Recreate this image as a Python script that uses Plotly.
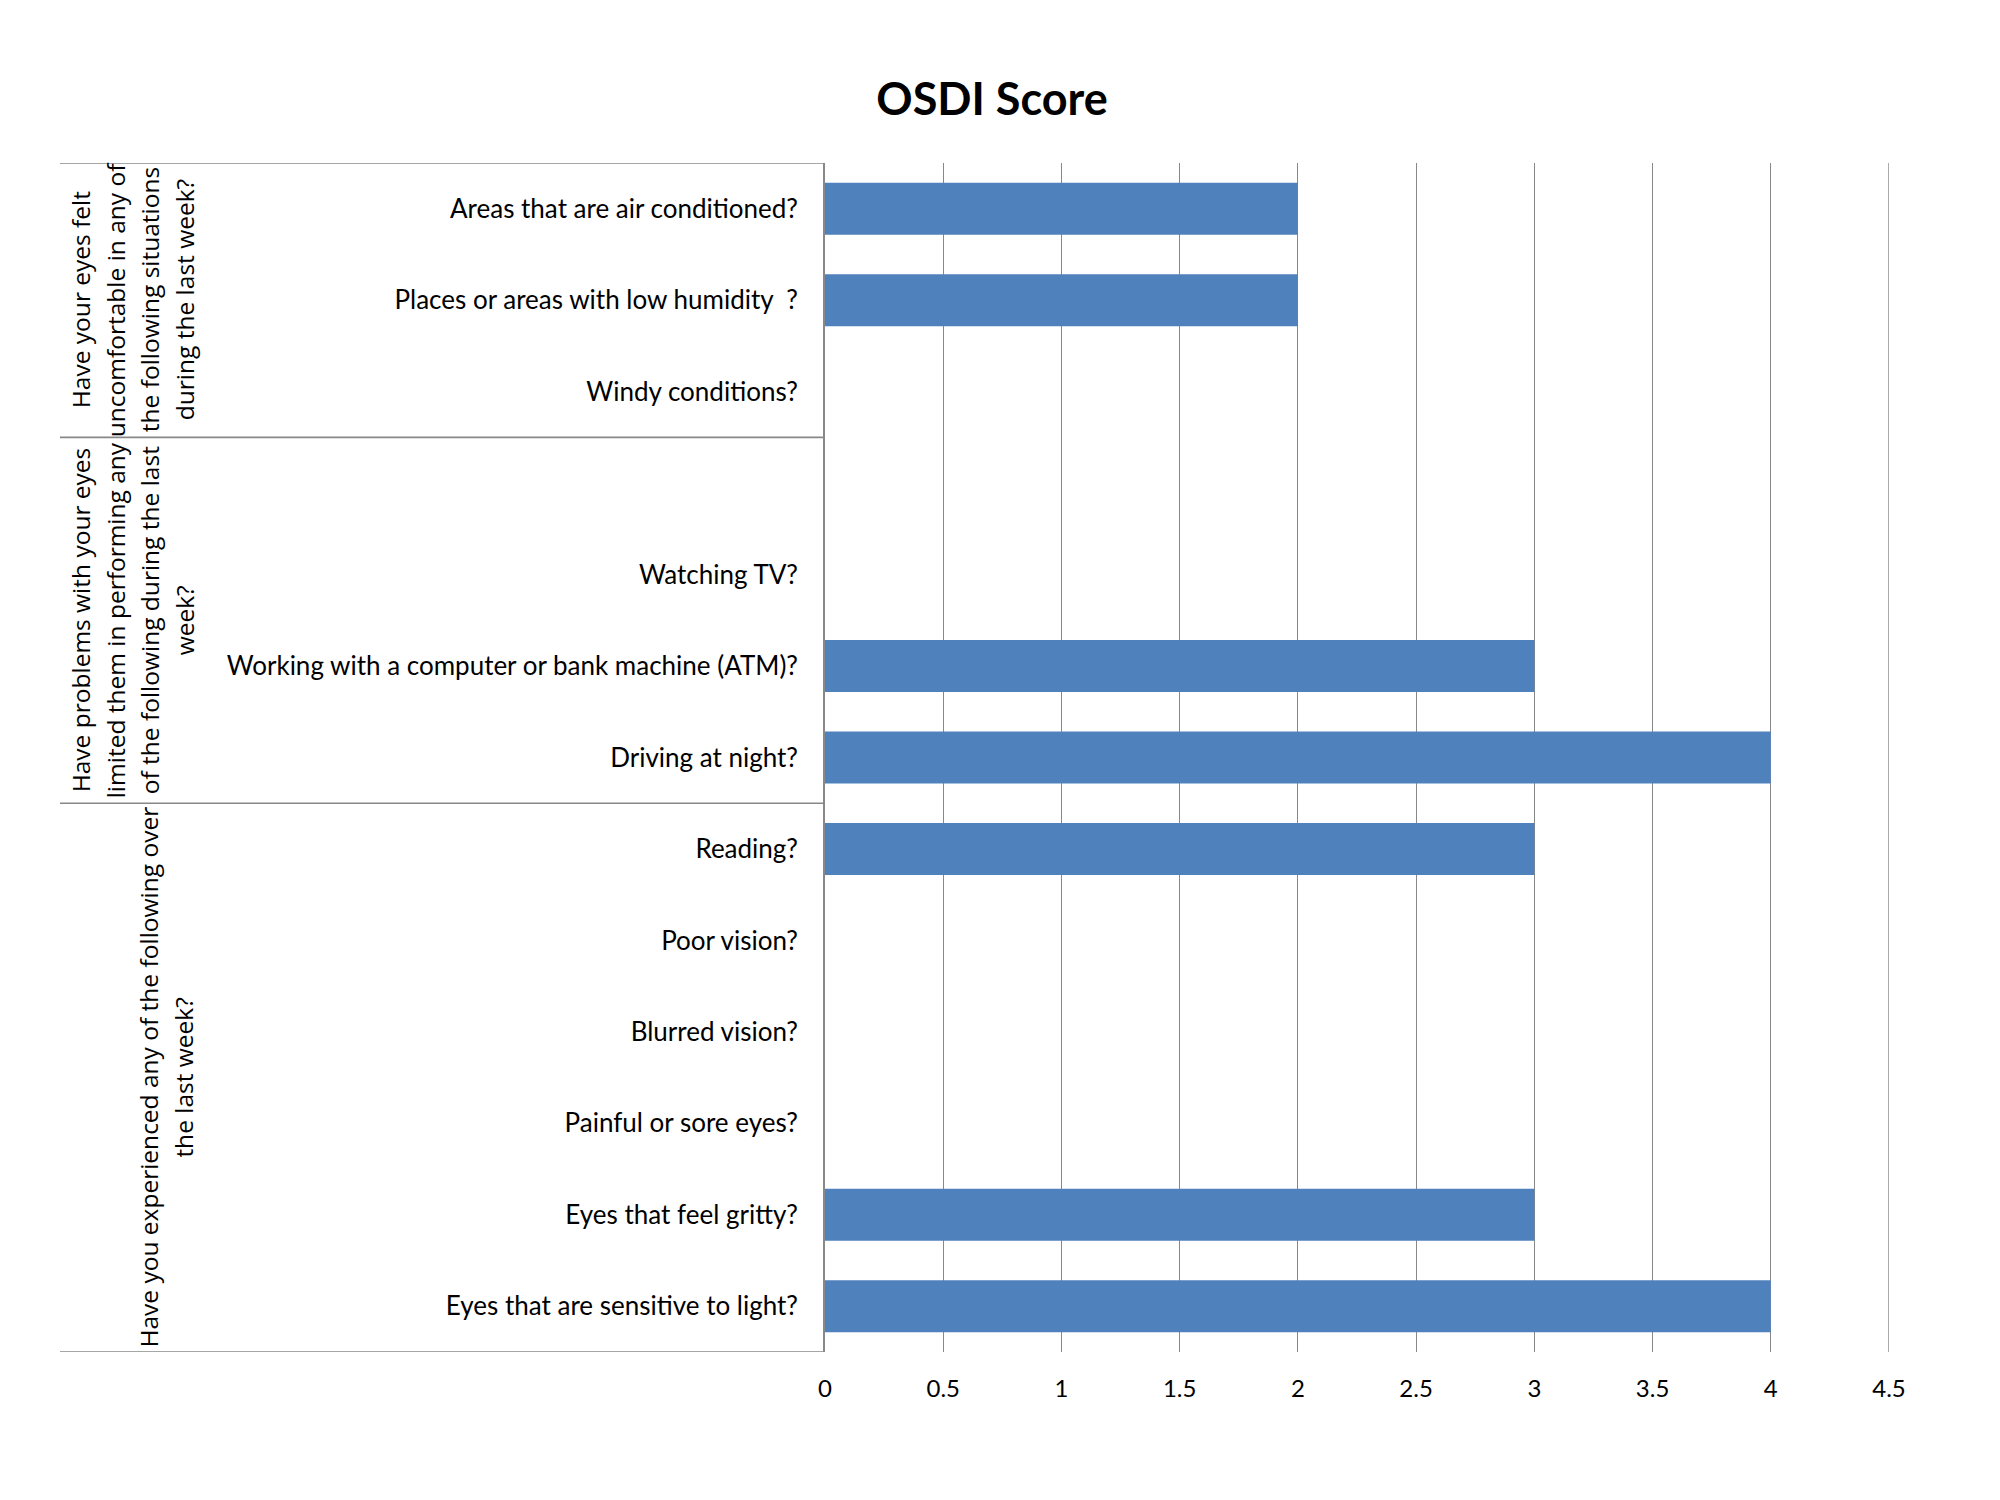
import plotly.graph_objects as go

# ---- data ----
categories = [
    "Areas that are air conditioned?",
    "Places or areas with low humidity\u00a0 ?",
    "Windy conditions?",
    " ",
    "Watching TV?",
    "Working with a computer or bank machine (ATM)?",
    "Driving at night?",
    "Reading?",
    "Poor vision?",
    "Blurred vision?",
    "Painful or sore eyes?",
    "Eyes that feel gritty?",
    "Eyes that are sensitive to light?",
]
scores = [2, 2, 0, 0, 0, 3, 4, 3, 0, 0, 0, 3, 4]
group_sizes = [3, 4, 6]
group_lines = [
    ["Have your eyes felt", "uncomfortable in any of", "the following situations", "during the last week?"],
    ["Have problems with your eyes", "limited them in performing any", "of the following during the last", "week?"],
    ["Have you experienced any of the following over", "the last week?"],
]
x_ticks = [0, 0.5, 1, 1.5, 2, 2.5, 3, 3.5, 4, 4.5]
x_ticklabels = ["0", "0.5", "1", "1.5", "2", "2.5", "3", "3.5", "4", "4.5"]
title = "OSDI Score"

# ---- layout geometry (pixels) ----
W, H = 2000, 1500
L, R, T, B = 825, 1889, 163, 1352
PW = R - L


def px2paper(p):
    return (p - L) / PW


GRAY = "#888888"
BLUE = "#4F81BD"

fig = go.Figure()
fig.add_trace(go.Bar(
    x=scores, y=categories, orientation="h",
    marker=dict(color=BLUE, line=dict(width=0)),
    width=0.57, showlegend=False,
))

shapes = []
boundaries = [-0.5]
acc = -0.5
for s in group_sizes:
    acc += s
    boundaries.append(acc)
for yb in boundaries:
    shapes.append(dict(type="line", xref="paper", yref="y",
                       x0=px2paper(60), x1=0, y0=yb, y1=yb,
                       line=dict(color=GRAY, width=1.6)))
shapes.append(dict(type="line", xref="x", yref="paper", x0=4.5, x1=4.5, y0=0, y1=1,
                   line=dict(color=GRAY, width=1.4)))

annotations = []
col_x = [80, 115, 149, 184]
start = -0.5
for s, lines in zip(group_sizes, group_lines):
    yc = start + s / 2.0
    n = len(lines)
    for i, txt in enumerate(lines):
        xp = col_x[len(col_x) - n + i]
        annotations.append(dict(
            text=txt, xref="paper", yref="y", x=px2paper(xp), y=yc,
            textangle=-90, showarrow=False, xanchor="center", yanchor="middle",
            font=dict(family="Open Sans", size=24.5, color="#000000"),
        ))
    start += s

fig.update_layout(
    width=W, height=H,
    margin=dict(l=L, r=W - R, t=T, b=H - B, pad=0),
    paper_bgcolor="white", plot_bgcolor="white",
    title=dict(text="<b>" + title + "</b>", x=px2paper(992), xanchor="center",
               xref="paper", y=1 - 99 / H, yanchor="middle", yref="container",
               font=dict(family="Lato", size=45, color="#000000")),
    xaxis=dict(range=[0, 4.5], tickvals=x_ticks, ticktext=x_ticklabels,
               showgrid=True, gridcolor=GRAY, gridwidth=1.4, zeroline=False,
               showline=False, ticks="", ticklabelstandoff=20,
               tickfont=dict(family="Lato", size=24, color="#000000")),
    yaxis=dict(categoryorder="array", categoryarray=categories,
               range=[12.5, -0.5], showgrid=False, zeroline=False,
               showline=True, linecolor=GRAY, linewidth=1.6, ticks="",
               ticklabelstandoff=20,
               tickfont=dict(family="Lato", size=26, color="#000000")),
    shapes=shapes, annotations=annotations, bargap=0.43,
)

fig.write_html("out.html")
